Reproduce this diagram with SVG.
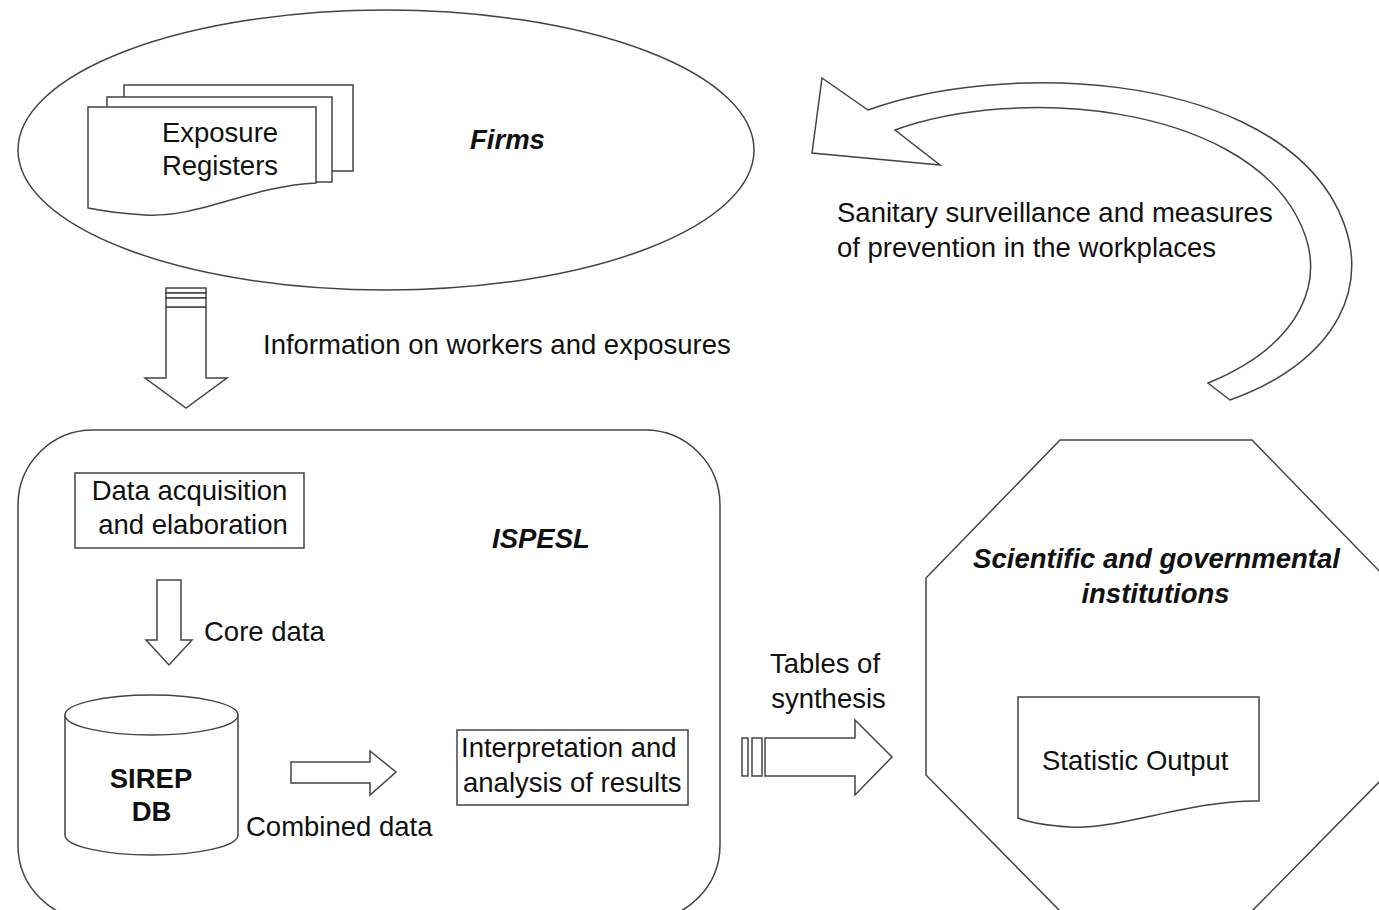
<svg xmlns="http://www.w3.org/2000/svg" width="1379" height="910" viewBox="0 0 1379 910">
<style>
.s{fill:#fff;stroke:#444;stroke-width:1.5}
.t{font-family:"Liberation Sans",Arial,sans-serif;font-size:27.5px;fill:#111}
.b{font-weight:bold}
.i{font-style:italic;font-weight:bold}
.m{text-anchor:middle}
</style>
<rect width="1379" height="910" fill="#fff"/>
<g id="firms">
<ellipse class="s" cx="386" cy="150" rx="368" ry="140"/>
<text class="t i" x="470" y="149">Firms</text>
</g>
<g id="exposure-registers">
<rect class="s" x="124" y="85" width="229" height="86"/>
<rect class="s" x="107" y="97" width="225" height="85"/>
<path class="s" d="M88,107 H316 V183 C250,186 200,218 145,215 C115,213 98,210 88,208 Z"/>
<text class="t m" x="220" y="142">Exposure</text>
<text class="t m" x="220" y="175">Registers</text>
</g>
<g id="ispesl">
<rect class="s" x="18" y="430" width="702" height="490" rx="75" ry="75"/>
<text class="t i" x="492" y="548">ISPESL</text>
</g>
<g id="data-acquisition">
<rect class="s" x="75" y="473" width="229" height="75"/>
<text class="t m" x="189.5" y="500">Data acquisition</text>
<text class="t m" x="193" y="534">and elaboration</text>
</g>
<g id="sirep-db">
<path class="s" d="M65,715 V835 A86.5,20 0 0 0 238,835 V715"/>
<ellipse class="s" cx="151.5" cy="715" rx="86.5" ry="20"/>
<text class="t b m" x="151" y="788">SIREP</text>
<text class="t b m" x="151.5" y="821">DB</text>
</g>
<g id="interpretation">
<rect class="s" x="457" y="730" width="231" height="75"/>
<text class="t" x="461" y="757">Interpretation and</text>
<text class="t" x="463" y="792">analysis of results</text>
</g>
<g id="institutions">
<polygon class="s" points="1060,440 1252,440 1386,578 1386,775 1252,911 1060,911 926,775 926,578"/>
<text class="t i m" x="1156.5" y="568">Scientific and governmental</text>
<text class="t i m" x="1155.5" y="603">institutions</text>
</g>
<g id="statistic-output">
<path class="s" d="M1018,697 H1259 V801 C1190,800 1120,830 1070,827 C1040,825 1025,821 1018,818 Z"/>
<text class="t" x="1042" y="770">Statistic Output</text>
</g>
<g id="connectors">
<g id="info-arrow">
<path class="s" d="M166,307 V378 H145 L186,408 L227,378 H206 V307 Z"/>
<rect class="s" x="166" y="288" width="40" height="5"/>
<rect class="s" x="166" y="293" width="40" height="5"/>
<rect class="s" x="166" y="298" width="40" height="9"/>
<text class="t" x="263" y="354">Information on workers and exposures</text>
</g>
<g id="feedback-arrow">
<path class="s" d="M812,153 L822,78 L868,110 C1000,62 1250,70 1330,195 C1385,285 1330,365 1230,400 L1208,383 C1300,345 1332,280 1296,215 C1235,105 1020,85 895,130 L940,165 Z"/>
<text class="t" x="837" y="222">Sanitary surveillance and measures</text>
<text class="t" x="837" y="257">of prevention in the workplaces</text>
</g>
<g id="core-arrow">
<path class="s" d="M157,580 H181 V640 H192 L169,665 L146,640 H157 Z"/>
<text class="t" x="204" y="641">Core data</text>
</g>
<g id="combined-arrow">
<path class="s" d="M291,762 H370 V751 L396,772 L370,795 V783 H291 Z"/>
<text class="t" x="246" y="836">Combined data</text>
</g>
<g id="tables-arrow">
<rect class="s" x="742" y="738" width="6" height="38"/>
<rect class="s" x="752" y="738" width="10" height="38"/>
<path class="s" d="M765,738 H855 V720 L892,757 L855,795 V776 H765 Z"/>
<text class="t m" x="825" y="673">Tables of</text>
<text class="t m" x="828.5" y="708">synthesis</text>
</g>
</g>
</svg>
